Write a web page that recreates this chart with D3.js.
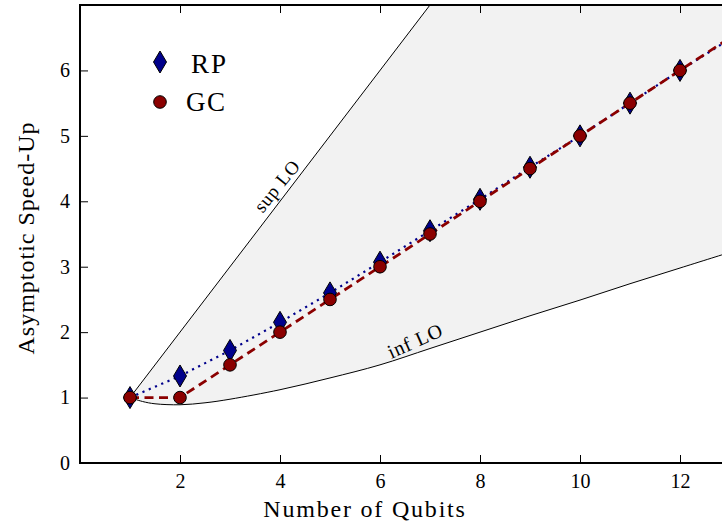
<!DOCTYPE html>
<html><head><meta charset="utf-8">
<script src="https://cdn.jsdelivr.net/npm/d3@7"></script>
<style>
html,body{margin:0;padding:0;background:#fff;}
svg{display:block;}
text{font-family:"Liberation Serif","DejaVu Serif",serif;fill:#000;}
</style></head>
<body>
<svg id="chart" width="722" height="525"></svg>
<script>
const qubits = [1,2,3,4,5,6,7,8,9,10,11,12,13];
const rpValues = [1.0,1.33,1.72,2.15,2.6,3.07,3.55,4.03,4.52,5.0,5.5,6.0,6.48];
const gcValues = [1.0,1.0,1.5,2.0,2.5,3.0,3.5,4.0,4.5,5.0,5.5,6.0,6.5];
const supX = [1,13];
const supY = [1,13];
const infX = [1,1.25,1.5,2,2.5,3,4,5,6,7,8,9,10,11,12,13];
const infY = [1.0,0.94,0.905,0.89,0.92,0.975,1.12,1.3,1.5,1.75,2.0,2.25,2.49,2.74,2.98,3.22];
const xTicks = [2,4,6,8,10,12];
const yTicks = [0,1,2,3,4,5,6];
const legendLabels = ["RP","GC"];

const svg = d3.select("#chart");
const L=80, T=5, R=730, B=463;
const x = d3.scaleLinear().domain([0,13]).range([L,R]);
const y = d3.scaleLinear().domain([0,7]).range([B,T]);

svg.append("defs").append("clipPath").attr("id","clip")
  .append("rect").attr("x",L).attr("y",T).attr("width",R-L).attr("height",B-T);

const g = svg.append("g").attr("clip-path","url(#clip)");
const supInterp = d3.scaleLinear().domain(supX).range(supY);

g.append("path")
  .attr("d", d3.area().x(d=>x(d)).y0((d,i)=>y(infY[i])).y1(d=>y(supInterp(d))).curve(d3.curveCatmullRom)(infX))
  .attr("fill","#f2f2f2");

g.append("path")
  .attr("d", d3.line().x(d=>x(d[0])).y(d=>y(d[1]))(d3.zip(supX,supY)))
  .attr("fill","none").attr("stroke","#000").attr("stroke-width",1);
g.append("path")
  .attr("d", d3.line().x(d=>x(d[0])).y(d=>y(d[1])).curve(d3.curveCatmullRom)(d3.zip(infX,infY)))
  .attr("fill","none").attr("stroke","#000").attr("stroke-width",1);

const lineGen = d3.line().x(d=>x(d[0])).y(d=>y(d[1]));
g.append("path").attr("d", lineGen(d3.zip(qubits,rpValues)))
  .attr("fill","none").attr("stroke","#00008b").attr("stroke-width",2.2)
  .attr("stroke-dasharray","2.2,4.6");
g.append("path").attr("d", lineGen(d3.zip(qubits,gcValues)))
  .attr("fill","none").attr("stroke","#8b0000").attr("stroke-width",2.8)
  .attr("stroke-dasharray","9,5.5");

const diamond = "M0,-11L6.5,0L0,11L-6.5,0Z";
g.selectAll(".rp").data(d3.zip(qubits,rpValues)).enter().append("path")
  .attr("d",diamond).attr("transform",d=>`translate(${x(d[0])},${y(d[1])})`)
  .attr("fill","#00008b").attr("stroke","#000").attr("stroke-width",1);
g.selectAll(".gc").data(d3.zip(qubits,gcValues)).enter().append("circle")
  .attr("cx",d=>x(d[0])).attr("cy",d=>y(d[1])).attr("r",6.3)
  .attr("fill","#8b0000").attr("stroke","#000").attr("stroke-width",1);

// annotations
svg.append("text").text("sup LO").attr("font-size",19).attr("letter-spacing",0.8)
  .attr("transform",`translate(282,190) rotate(-51)`).attr("text-anchor","middle");
svg.append("text").text("inf LO").attr("font-size",20).attr("letter-spacing",0.8)
  .attr("transform",`translate(418,347) rotate(-24)`).attr("text-anchor","middle");

// axes
const tickLen = 8;
const axG = svg.append("g");
axG.append("g").attr("transform",`translate(0,${B})`)
  .call(d3.axisBottom(x).tickValues(xTicks).tickFormat(d3.format("d")).tickSizeInner(-tickLen).tickSizeOuter(0).tickPadding(11))
  .call(a=>{a.select(".domain").remove(); a.selectAll("text").attr("font-size",20).attr("font-family","Liberation Serif, serif");});
axG.append("g").attr("transform",`translate(0,${T})`)
  .call(d3.axisTop(x).tickValues(xTicks).tickSizeInner(-tickLen).tickSizeOuter(0).tickFormat(""))
  .call(a=>a.select(".domain").remove());
axG.append("g").attr("transform",`translate(${L},0)`)
  .call(d3.axisLeft(y).tickValues(yTicks).tickFormat(d3.format("d")).tickSizeInner(-tickLen).tickSizeOuter(0).tickPadding(10))
  .call(a=>{a.select(".domain").remove(); a.selectAll("text").attr("font-size",20).attr("font-family","Liberation Serif, serif");});
axG.append("g").attr("transform",`translate(${R},0)`)
  .call(d3.axisRight(y).tickValues(yTicks).tickSizeInner(-tickLen).tickSizeOuter(0).tickFormat(""))
  .call(a=>a.select(".domain").remove());
axG.selectAll(".tick line").attr("stroke","#000").attr("stroke-width",1);

svg.append("rect").attr("x",L).attr("y",T).attr("width",R-L).attr("height",B-T)
  .attr("fill","none").attr("stroke","#000").attr("stroke-width",2);

// axis labels
svg.append("text").text("Number of Qubits").attr("x",365).attr("y",517)
  .attr("text-anchor","middle").attr("font-size",24).attr("letter-spacing",1.8);
svg.append("text").text("Asymptotic Speed-Up")
  .attr("transform",`translate(34,238) rotate(-90)`)
  .attr("text-anchor","middle").attr("font-size",24).attr("letter-spacing",1.0);

// legend
const leg = svg.append("g");
leg.append("path").attr("d",diamond).attr("transform","translate(160,62)")
  .attr("fill","#00008b").attr("stroke","#000").attr("stroke-width",1);
leg.append("text").text(legendLabels[0]).attr("x",191).attr("y",73).attr("font-size",27).attr("letter-spacing",2);
leg.append("circle").attr("cx",160).attr("cy",102).attr("r",6.3)
  .attr("fill","#8b0000").attr("stroke","#000").attr("stroke-width",1);
leg.append("text").text(legendLabels[1]).attr("x",186).attr("y",111).attr("font-size",27).attr("letter-spacing",1.5);
</script>
</body></html>
